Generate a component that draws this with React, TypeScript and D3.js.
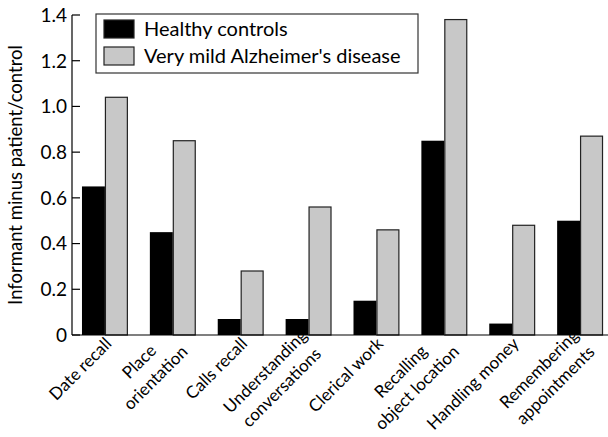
import React from 'react';
import * as d3 from 'd3';

// categories on the x axis; "\n" marks a line break in the label
const categories = [
  'Date recall',
  'Place\norientation',
  'Calls recall',
  'Understanding\nconversations',
  'Clerical work',
  'Recalling\nobject location',
  'Handling money',
  'Remembering\nappointments',
];
const healthyControls = [0.65, 0.45, 0.07, 0.07, 0.15, 0.85, 0.05, 0.5];
const veryMildAD = [1.04, 0.85, 0.28, 0.56, 0.46, 1.38, 0.48, 0.87];
const seriesNames = ['Healthy controls', "Very mild Alzheimer's disease"];
const yTicks = [0, 0.2, 0.4, 0.6, 0.8, 1.0, 1.2, 1.4];

const W = 608;
const H = 437;
const FONT = 'Lato, "Open Sans", sans-serif';
const GREY = '#c8c8c8';
const XLAB_SIZE = 17;

// measure label widths so multi-line labels can be centred on each other
const ctx = document.createElement('canvas').getContext('2d');
const textWidth = (s: string) => {
  if (!ctx) return s.length * XLAB_SIZE * 0.5;
  ctx.font = `${XLAB_SIZE}px ${FONT}`;
  return ctx.measureText(s).width;
};

const App: React.FC = () => {
  const left = 72;
  const top = 15;
  const bottom = 335;

  const x = d3
    .scaleBand<string>()
    .domain(categories)
    .range([left, 613])
    .paddingInner(0.324)
    .paddingOuter(0.147);
  const sub = d3
    .scaleBand<number>()
    .domain([0, 1])
    .range([0, x.bandwidth()]);
  const y = d3.scaleLinear().domain([0, 1.4]).range([bottom, top]);

  const series = [healthyControls, veryMildAD];
  const fmt = (v: number) => (v === 0 ? '0' : d3.format('.1f')(v));

  return (
    <svg width={W} height={H} style={{ position: 'absolute', left: 0, top: 0 }} fontFamily={FONT}>
      <rect width={W} height={H} fill="#fff" />

      {/* bars */}
      {categories.map((c, i) => (
        <g key={c} transform={`translate(${x(c)},0)`}>
          {series.map((s, k) => (
            <rect
              key={k}
              x={sub(k)! + (k === 1 ? 0.5 : 0)}
              y={y(s[i])}
              width={sub.bandwidth() - (k === 1 ? 1 : 0)}
              height={bottom - y(s[i])}
              fill={k === 0 ? '#000' : GREY}
              stroke={k === 0 ? 'none' : '#222'}
              strokeWidth={1.2}
            />
          ))}
        </g>
      ))}

      {/* y axis */}
      <line x1={left} x2={left} y1={top} y2={bottom} stroke="#000" strokeWidth={1.2} />
      {yTicks.map((t) => (
        <g key={t} transform={`translate(0,${y(t)})`}>
          <line x1={left} x2={left + 8} stroke="#000" strokeWidth={1.2} />
          <text x={left - 5} dy="0.36em" textAnchor="end" fontSize={19}>
            {fmt(t)}
          </text>
        </g>
      ))}
      <line x1={left} x2={W} y1={bottom} y2={bottom} stroke="#000" strokeWidth={1.2} />

      {/* x labels: lines centred on each other, block ending at the group centre */}
      {categories.map((c) => {
        const lines = c.split('\n');
        const maxW = d3.max(lines, textWidth) ?? 0;
        const cx = x(c)! + x.bandwidth() / 2;
        return (
          <g key={c} transform={`translate(${cx},${bottom + 2}) rotate(-45)`}>
            {lines.map((l, j) => (
              <text
                key={j}
                x={-maxW / 2}
                y={5 + (j - (lines.length - 1) / 2) * 23}
                dy="0.35em"
                textAnchor="middle"
                fontSize={XLAB_SIZE}
              >
                {l}
              </text>
            ))}
          </g>
        );
      })}

      {/* y title */}
      <text
        transform={`translate(22,175) rotate(-90)`}
        textAnchor="middle"
        fontSize={18.5}
      >
        Informant minus patient/control
      </text>

      {/* legend */}
      <g>
        <rect x={96} y={14} width={322} height={59} fill="#fff" stroke="#333" strokeWidth={1.2} />
        {seriesNames.map((n, k) => (
          <g key={n} transform={`translate(104,${20 + k * 27})`}>
            <rect width={30} height={18} fill={k === 0 ? '#000' : GREY} stroke="#222" strokeWidth={1.2} />
            <text x={40} y={9} dy="0.36em" fontSize={20}>
              {n}
            </text>
          </g>
        ))}
      </g>
    </svg>
  );
};

export default App;
